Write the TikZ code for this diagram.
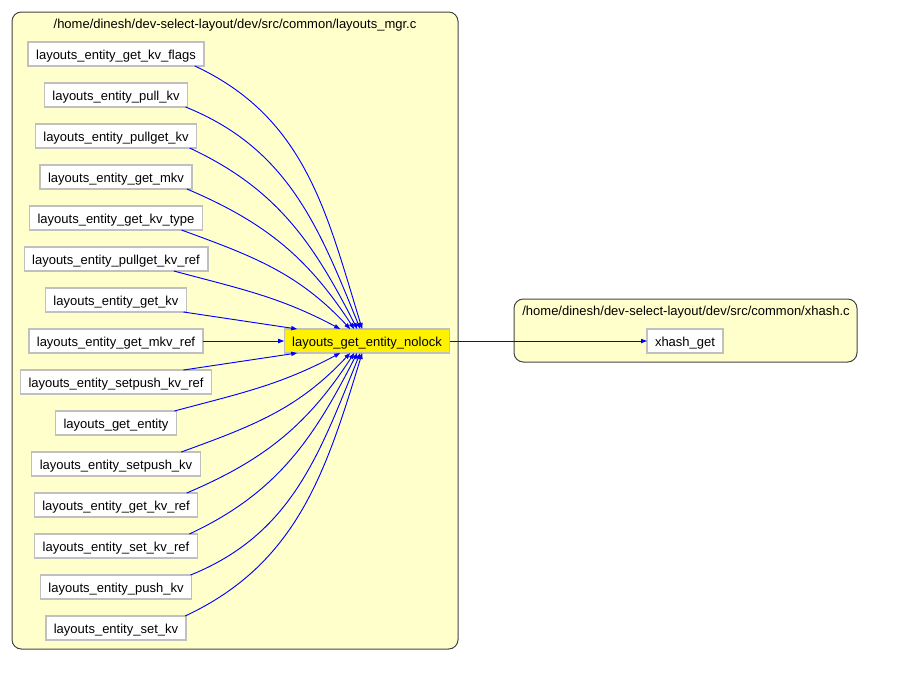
\documentclass[tikz,border=0pt]{standalone}
\usepackage{fontspec}
\setmainfont{Liberation Sans}
\usetikzlibrary{positioning, calc, arrows.meta}
\definecolor{FileFill}{HTML}{FFFFCC}
\definecolor{FileLine}{HTML}{444444}
\definecolor{BoxLine}{HTML}{C0C0C0}
\definecolor{CallBlue}{HTML}{0000FF}
\tikzset{
    funcnode/.style={rectangle, draw=BoxLine, line width=1pt, fill=white, inner xsep=6pt, inner ysep=0pt, outer sep=0pt, minimum height=18pt, text height=8.8pt, text depth=1.2pt, font=\fontsize{9.75}{11}\selectfont},
    focusnode/.style={funcnode, fill=yellow},
    filebox/.style={draw=FileLine, fill=FileFill, line width=0.75pt, rounded corners=7pt},
    filelabel/.style={font=\fontsize{9.75}{11}\selectfont, inner sep=0pt, anchor=base},
    call/.style={-{Triangle[length=4.5pt,width=3.2pt]}, color=CallBlue, line width=0.7pt},
}
\begin{document}
\begin{tikzpicture}[x=0.75pt, y=-0.75pt, node distance=12.75pt]
    \useasboundingbox (0,0) rectangle (905,697);
    % Cartelle dei file
    \draw[filebox] (12,12) rectangle (458,649);
    \draw[filebox] (514,299) rectangle (857,362);
    \node[filelabel] (mgrfile) at (235,28) {/home/dinesh/dev-select-layout/dev/src/common/layouts\_mgr.c};
    \node[filelabel] (xhashfile) at (686,315) {/home/dinesh/dev-select-layout/dev/src/common/xhash.c};

    % Nodi
    \node[funcnode] (flags) at (116,54) {layouts\_entity\_get\_kv\_flags};
    \node[funcnode, below=of flags] (pullkv) {layouts\_entity\_pull\_kv};
    \node[funcnode, below=of pullkv] (pullgetkv) {layouts\_entity\_pullget\_kv};
    \node[funcnode, below=of pullgetkv] (getmkv) {layouts\_entity\_get\_mkv};
    \node[funcnode, below=of getmkv] (kvtype) {layouts\_entity\_get\_kv\_type};
    \node[funcnode, below=of kvtype] (pullgetref) {layouts\_entity\_pullget\_kv\_ref};
    \node[funcnode, below=of pullgetref] (getkv) {layouts\_entity\_get\_kv};
    \node[funcnode, below=of getkv] (getmkvref) {layouts\_entity\_get\_mkv\_ref};
    \node[funcnode, below=of getmkvref] (setpushref) {layouts\_entity\_setpush\_kv\_ref};
    \node[funcnode, below=of setpushref] (getentity) {layouts\_get\_entity};
    \node[funcnode, below=of getentity] (setpushkv) {layouts\_entity\_setpush\_kv};
    \node[funcnode, below=of setpushkv] (getkvref) {layouts\_entity\_get\_kv\_ref};
    \node[funcnode, below=of getkvref] (setkvref) {layouts\_entity\_set\_kv\_ref};
    \node[funcnode, below=of setkvref] (pushkv) {layouts\_entity\_push\_kv};
    \node[funcnode, below=of pushkv] (setkv) {layouts\_entity\_set\_kv};

    \node[focusnode] (nolock) at (367,341) {layouts\_get\_entity\_nolock};
    \node[funcnode] (xhashget) at (685,341) {xhash\_get};

    % Chiamate verso nolock (sopra)
    \draw[call] ($(flags.south east)+(-9,0)$) to[out=-25, in=107] ($(nolock.north west)+(78,0)$);
    \draw[call] ($(pullkv.south east)+(-2,0)$) to[out=-22, in=112] ($(nolock.north west)+(76,0)$);
    \draw[call] ($(pullgetkv.south east)+(-7,0)$) to[out=-25, in=117] ($(nolock.north west)+(73,0)$);
    \draw[call] ($(getmkv.south east)+(-5,0)$) to[out=-23, in=123] ($(nolock.north west)+(70,0)$);
    \draw[call] ($(kvtype.south east)+(-21,0)$) to[out=-20, in=133] ($(nolock.north west)+(66,0)$);
    \draw[call] ($(pullgetref.south east)+(-34,0)$) to[out=-15, in=152] ($(nolock.north west)+(56,0)$);
    \draw[call] ($(getkv.south east)+(-3,0)$) -- ($(nolock.north west)+(13,0)$);
    \draw[call] (getmkvref) -- (nolock);
    % Chiamate verso nolock (sotto)
    \draw[call] ($(setpushref.north east)+(-28,0)$) -- ($(nolock.south west)+(13,0)$);
    \draw[call] ($(getentity.north east)+(-2,0)$) to[out=15, in=-152] ($(nolock.south west)+(56,0)$);
    \draw[call] ($(setpushkv.north east)+(-19,0)$) to[out=20, in=-133] ($(nolock.south west)+(66,0)$);
    \draw[call] ($(getkvref.north east)+(-11,0)$) to[out=23, in=-123] ($(nolock.south west)+(70,0)$);
    \draw[call] ($(setkvref.north east)+(-8,0)$) to[out=25, in=-117] ($(nolock.south west)+(73,0)$);
    \draw[call] ($(pushkv.north east)+(-1,0)$) to[out=22, in=-112] ($(nolock.south west)+(76,0)$);
    \draw[call] ($(setkv.north east)+(-1,0)$) to[out=25, in=-107] ($(nolock.south west)+(78,0)$);

    % Chiamata verso xhash
    \draw[call] (nolock) -- (xhashget);
\end{tikzpicture}
\end{document}
